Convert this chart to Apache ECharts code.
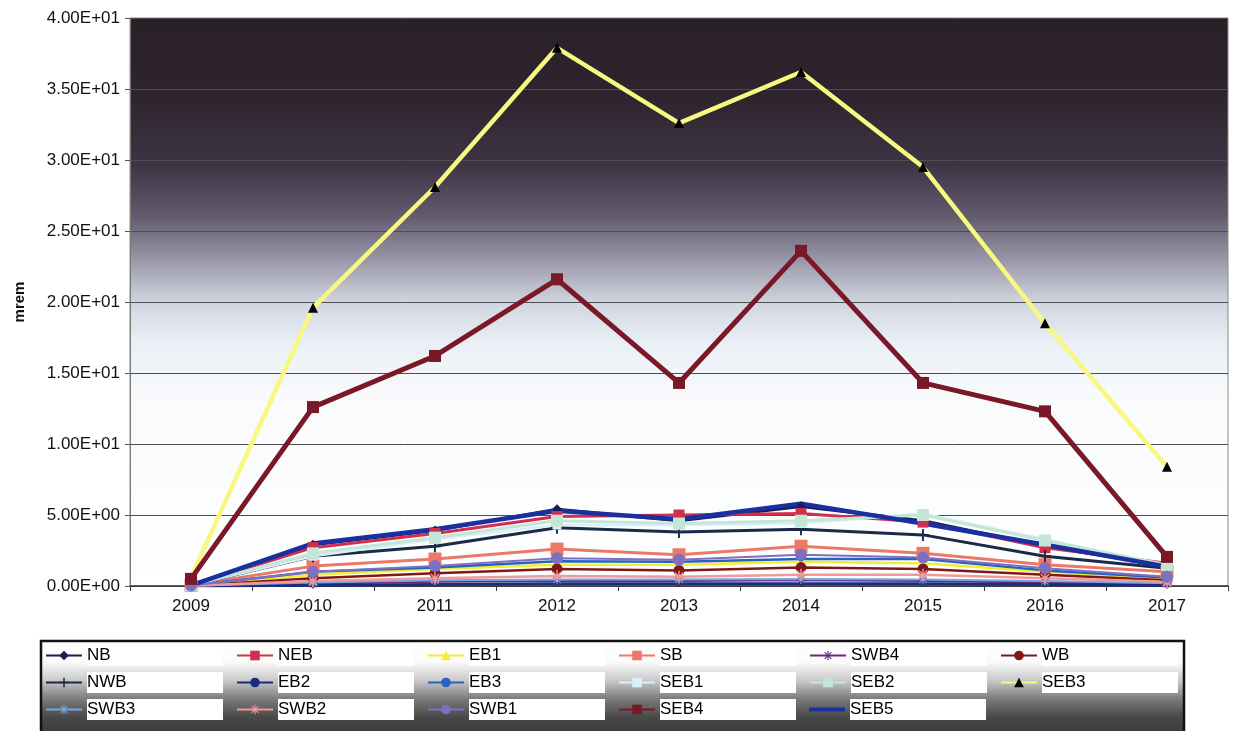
<!DOCTYPE html>
<html>
<head>
<meta charset="utf-8">
<script src="https://cdn.jsdelivr.net/npm/echarts@6/dist/echarts.min.js"></script>
<style>
  html, body { margin: 0; padding: 0; background: #ffffff; }
  #chart { width: 1236px; height: 731px; }
</style>
</head>
<body>
<div id="chart"></div>
<script>
// Annual dose by monitoring location (mrem)
const years = ['2009', '2010', '2011', '2012', '2013', '2014', '2015', '2016', '2017'];

const NB   = [0.05, 2.9, 3.9, 5.4, 4.6, 5.6, 4.6, 2.8, 1.4];
const NEB  = [0.05, 2.7, 3.7, 4.9, 5.0, 5.1, 4.5, 2.7, 1.6];
const EB1  = [0.03, 0.8, 1.2, 1.5, 1.5, 1.7, 1.6, 1.0, 0.5];
const SB   = [0.05, 1.4, 1.9, 2.6, 2.2, 2.8, 2.3, 1.5, 1.0];
const SWB4 = [0.01, 0.15, 0.3, 0.35, 0.35, 0.4, 0.35, 0.25, 0.15];
const WB   = [0.02, 0.55, 0.9, 1.2, 1.1, 1.3, 1.2, 0.8, 0.4];
const NWB  = [0.05, 2.1, 2.8, 4.1, 3.8, 4.0, 3.6, 2.1, 1.25];
const EB2  = [0.0, 0.05, 0.1, 0.15, 0.15, 0.15, 0.15, 0.1, 0.05];
const EB3  = [0.03, 1.0, 1.3, 1.75, 1.7, 1.9, 1.9, 1.1, 0.6];
const SEB1 = [0.05, 2.1, 3.3, 4.3, 4.3, 4.4, 5.1, 3.3, 1.4];
const SEB2 = [0.05, 2.3, 3.4, 4.6, 4.4, 4.6, 5.0, 3.2, 1.5];
const SEB3 = [0.6, 19.6, 28.1, 37.9, 32.6, 36.2, 29.5, 18.5, 8.4];
const SWB3 = [0.01, 0.25, 0.4, 0.45, 0.45, 0.5, 0.45, 0.35, 0.2];
const SWB2 = [0.02, 0.35, 0.55, 0.7, 0.65, 0.8, 0.8, 0.55, 0.3];
const SWB1 = [0.03, 1.0, 1.4, 1.95, 1.85, 2.2, 2.0, 1.25, 0.65];
const SEB4 = [0.5, 12.6, 16.2, 21.6, 14.3, 23.6, 14.3, 12.3, 2.05];
const SEB5 = [0.05, 3.0, 4.0, 5.3, 4.7, 5.8, 4.4, 2.9, 1.35];

const yMin = 0, yMax = 40, yStep = 5;

const ASTERISK = 'path://M4.4,0h1.2v10h-1.2z M0,4.4h10v1.2h-10z M1.1,1.9l0.8,-0.8l7,7l-0.8,0.8z M8.1,1.1l0.8,0.8l-7,7l-0.8,-0.8z';
const PLUS = 'path://M4.2,0h1.6v4.2h4.2v1.6h-4.2v4.2h-1.6v-4.2h-4.2v-1.6h4.2z';
const BAR_ICON = 'path://M0,0h36v4h-36z';

function sci(v) {
  const s = Number(v).toExponential(2).toUpperCase();
  const m = s.match(/^(-?[\d.]+)E([+-])(\d+)$/);
  return m[1] + 'E' + m[2] + m[3].padStart(2, '0');
}

function line(name, data, color, width, symbol, size, markColor) {
  return {
    name: name,
    type: 'line',
    data: data,
    symbol: symbol,
    symbolSize: size,
    showSymbol: symbol !== 'none',
    lineStyle: { color: color, width: width },
    itemStyle: { color: markColor || color, borderColor: markColor || color, borderWidth: 0 },
    emphasis: { disabled: true },
    animation: false
  };
}

const series = [
  line('NB',   NB,   '#141e5a', 3,   'diamond', 10),
  line('NEB',  NEB,  '#d0304e', 3,   'rect',    11),
  line('EB1',  EB1,  '#f2ee30', 2.5, 'triangle', 9),
  line('SB',   SB,   '#ec7868', 3,   'rect',    13),
  line('SWB4', SWB4, '#6a2a7a', 2,   ASTERISK,  10),
  line('WB',   WB,   '#801818', 2.5, 'circle',  11),
  line('NWB',  NWB,  '#1a2a48', 3,   PLUS,      12),
  line('EB2',  EB2,  '#1a2c80', 3,   'circle',   5),
  line('EB3',  EB3,  '#2a60c0', 2.5, 'circle',   5),
  line('SEB1', SEB1, '#d8f0fa', 2.5, 'rect',     9),
  line('SEB2', SEB2, '#c4e6d6', 3,   'rect',    12),
  line('SEB3', SEB3, '#f8f880', 4.5, 'triangle', 10, '#000000'),
  line('SWB3', SWB3, '#70a8e0', 2,   ASTERISK,  10),
  line('SWB2', SWB2, '#f0989a', 2.5, ASTERISK,  12),
  line('SWB1', SWB1, '#7c70c0', 2,   'circle',  12),
  line('SEB4', SEB4, '#7a1828', 5,   'rect',    12),
  line('SEB5', SEB5, '#1a30a0', 4.5, 'none',     0)
];

const legendData = series.map(s => s.symbol === 'none' ? { name: s.name, icon: BAR_ICON } : { name: s.name });

const chart = echarts.init(document.getElementById('chart'), null, { renderer: 'canvas' });

chart.setOption({
  backgroundColor: '#ffffff',
  animation: false,
  textStyle: { fontFamily: 'Liberation Sans, Arial, sans-serif' },
  grid: {
    left: 130, right: 8, top: 18, bottom: 145,
    show: true,
    borderColor: '#8a8a8a',
    borderWidth: 1,
    backgroundColor: new echarts.graphic.LinearGradient(0, 0, 0, 1, [
      { offset: 0.00, color: '#2a2027' },
      { offset: 0.14, color: '#2e242e' },
      { offset: 0.26, color: '#3e3545' },
      { offset: 0.35, color: '#625c6e' },
      { offset: 0.43, color: '#9c9aaa' },
      { offset: 0.50, color: '#d0d5df' },
      { offset: 0.57, color: '#e9eff5' },
      { offset: 0.66, color: '#f8fafc' },
      { offset: 1.00, color: '#ffffff' }
    ])
  },
  xAxis: {
    type: 'category',
    data: years,
    boundaryGap: true,
    axisLine: { lineStyle: { color: '#3a3a3a', width: 1.5 } },
    axisTick: { show: true, length: 5, lineStyle: { color: '#3a3a3a' } },
    axisLabel: { color: '#111111', fontSize: 17, margin: 12 }
  },
  yAxis: {
    type: 'value',
    min: yMin, max: yMax, interval: yStep,
    name: 'mrem',
    nameLocation: 'middle',
    nameGap: 103,
    nameRotate: 90,
    nameTextStyle: { color: '#111111', fontSize: 15, fontWeight: 'bold' },
    axisLine: { show: true, lineStyle: { color: '#7a7a7a' } },
    axisTick: { show: true, length: 5, lineStyle: { color: '#555555' } },
    axisLabel: { color: '#111111', fontSize: 17, margin: 10, formatter: sci },
    splitLine: { show: true, lineStyle: { color: '#4e4e4e', width: 1 } }
  },
  graphic: [{
    type: 'rect',
    z: 0,
    shape: { x: 41, y: 641, width: 1143, height: 100 },
    style: {
      fill: new echarts.graphic.LinearGradient(0, 0, 0, 1, [
        { offset: 0.00, color: '#ffffff' },
        { offset: 0.22, color: '#fafafa' },
        { offset: 0.40, color: '#c8c8c8' },
        { offset: 0.58, color: '#7a7a7a' },
        { offset: 0.75, color: '#4a4a4a' },
        { offset: 1.00, color: '#303030' }
      ]),
      stroke: '#111111',
      lineWidth: 2.5
    }
  }],
  legend: {
    z: 5,
    left: 45,
    top: 645,
    width: 1140,
    orient: 'horizontal',
    itemWidth: 36,
    itemHeight: 12,
    itemGap: 6,
    padding: 0,
    formatter: '{box|{name}}',
    textStyle: {
      color: '#000000',
      fontSize: 17,
      width: 143,
      height: 21,
      lineHeight: 21,
      rich: {
        box: {
          color: '#000000',
          fontSize: 17,
          width: 136,
          height: 21,
          lineHeight: 21,
          backgroundColor: '#ffffff'
        }
      }
    },
    data: legendData
  },
  series: series
});
</script>
</body>
</html>
